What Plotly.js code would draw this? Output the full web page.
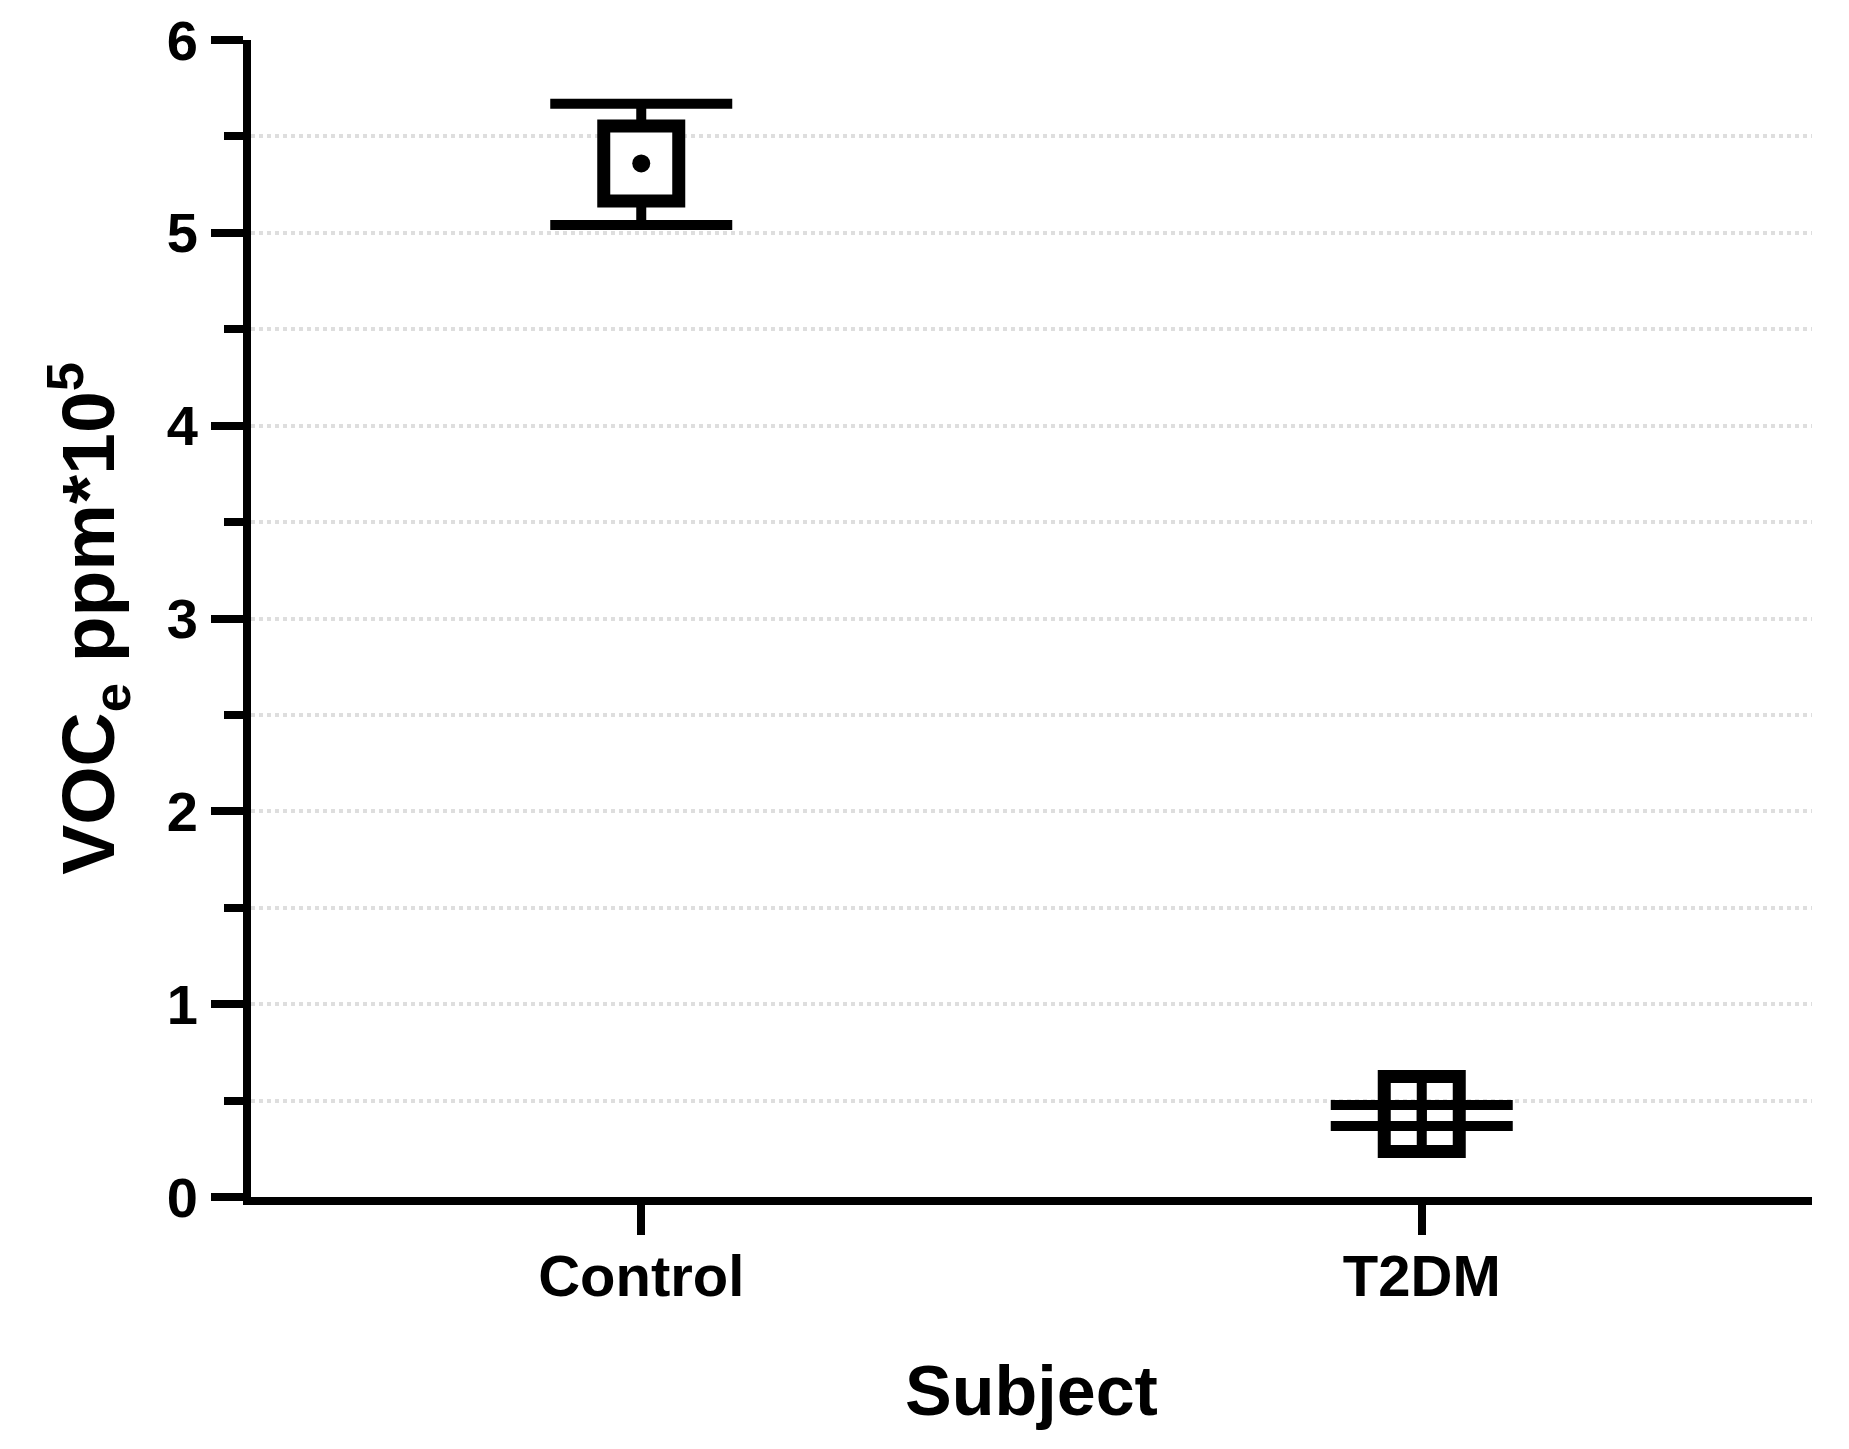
<!DOCTYPE html>
<html>
<head>
<meta charset="utf-8">
<script src="https://cdn.plot.ly/plotly-3.0.1.min.js"></script>
<style>html,body{margin:0;padding:0;background:#fff;}</style>
</head>
<body>
<div id="chart" style="width:1849px;height:1449px;"></div>
<script>
// Data
const categories = ["Control", "T2DM"];
const means = [5.36, 0.43];
const upper = [5.67, 0.477];
const lower = [5.04, 0.368];
const yTickVals = [0, 1, 2, 3, 4, 5, 6];

const FONT = "Liberation Sans, Arial, sans-serif";

function pointTrace(i, marker) {
  return {
    type: "scatter",
    mode: "markers",
    x: [categories[i]],
    y: [means[i]],
    marker: marker,
    error_y: {
      type: "data",
      symmetric: false,
      array: [upper[i] - means[i]],
      arrayminus: [means[i] - lower[i]],
      color: "#000",
      thickness: 10,
      width: 91
    },
    showlegend: false,
    hoverinfo: "skip",
    cliponaxis: false
  };
}

const traces = [
  pointTrace(0, {symbol: "square", size: 75, color: "#fff", line: {color: "#000", width: 13}}),
  {
    type: "scatter", mode: "markers",
    x: [categories[0]], y: [means[0]],
    marker: {symbol: "circle", size: 18, color: "#000", line: {width: 0}},
    showlegend: false, hoverinfo: "skip", cliponaxis: false
  },
  pointTrace(1, {symbol: "square-open", size: 75, color: "#000", line: {color: "#000", width: 13}}),
  {
    type: "scatter", mode: "markers",
    x: [categories[1]], y: [means[1]],
    marker: {symbol: "line-ns-open", size: 55, color: "#000", line: {color: "#000", width: 10}},
    showlegend: false, hoverinfo: "skip", cliponaxis: false
  }
];

const layout = {
  width: 1849,
  height: 1449,
  margin: {l: 251, r: 37, t: 40, b: 252},
  paper_bgcolor: "#fff",
  plot_bgcolor: "#fff",
  showlegend: false,
  font: {family: FONT, color: "#000", size: 57, weight: "bold"},
  xaxis: {
    type: "category",
    categoryorder: "array",
    categoryarray: categories,
    range: [-0.5, 1.5],
    showline: true, linecolor: "#000", linewidth: 8,
    ticks: "outside", ticklen: 30, tickwidth: 8, tickcolor: "#000",
    tickfont: {family: FONT, size: 58, color: "#000", weight: "bold"},
    ticklabelstandoff: -9,
    showgrid: false, zeroline: false,
    title: {text: "Subject", font: {family: FONT, size: 70, color: "#000", weight: "bold"}, standoff: 62}
  },
  yaxis: {
    range: [0, 6],
    tickvals: yTickVals,
    ticktext: yTickVals.map(String),
    showline: true, linecolor: "#000", linewidth: 8,
    ticks: "outside", ticklen: 32, tickwidth: 8, tickcolor: "#000",
    tickfont: {family: FONT, size: 56, color: "#000", weight: "bold"},
    ticklabelstandoff: 2,
    showgrid: true, gridcolor: "#dedede", gridwidth: 4, griddash: "dot",
    zeroline: false,
    minor: {dtick: 0.5, tick0: 0, ticks: "outside", ticklen: 19, tickwidth: 8, tickcolor: "#000",
            showgrid: true, gridcolor: "#dedede", gridwidth: 4, griddash: "dot"},
    title: {text: "VOC<sub>e</sub> ppm*10<sup>5</sup>", font: {family: FONT, size: 75, color: "#000", weight: "bold"}, standoff: 30}
  }
};

Plotly.newPlot("chart", traces, layout, {staticPlot: true, displayModeBar: false});
</script>
</body>
</html>
